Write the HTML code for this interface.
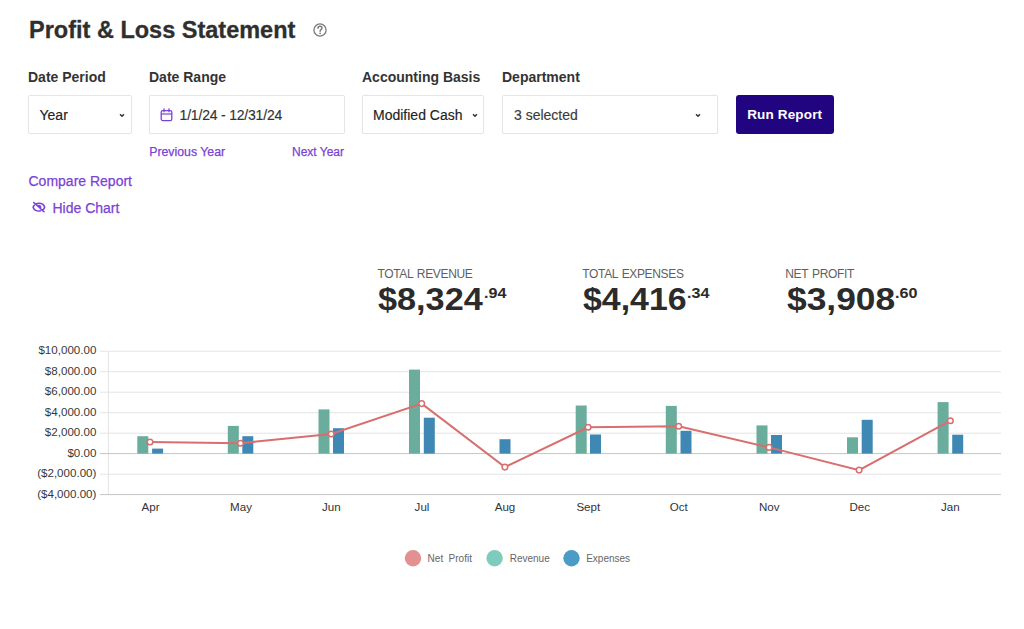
<!DOCTYPE html>
<html><head><meta charset="utf-8">
<style>
html,body{margin:0;padding:0;background:#fff;width:1024px;height:629px;overflow:hidden;position:relative;font-family:"Liberation Sans",sans-serif;}
.a{position:absolute;white-space:nowrap;line-height:1;}
.title{left:29px;top:18.7px;font-size:23.5px;font-weight:bold;color:#2f2f2f;-webkit-text-stroke:0.3px #2f2f2f;}
.lbl{top:69.6px;font-size:14px;font-weight:bold;color:#333;}
.box{position:absolute;top:95px;height:39px;box-sizing:border-box;border:1px solid #e6e6e6;border-radius:2px;background:#fff;box-shadow:0 0 1.5px rgba(0,0,0,0.06);}
.val{font-size:14px;color:#222;top:108px;-webkit-text-stroke:0.15px currentColor;}
.lnk{color:#7a43d6;-webkit-text-stroke:0.25px #7a43d6;}
.chev{position:absolute;top:112px;width:8px;height:6px;}
.kl{font-size:12px;color:#5f5f5f;top:267.6px;letter-spacing:-0.35px;word-spacing:1px;}
.kv{font-size:32px;font-weight:bold;color:#2b2b2b;top:283px;transform:scaleX(1.1);transform-origin:0 0;}
.ks{font-size:14px;font-weight:bold;color:#2b2b2b;top:286px;transform:scaleX(1.15);transform-origin:0 0;}
</style></head><body>
<div class="a title">Profit &amp; Loss Statement</div>
<svg class="a" style="left:313.2px;top:23.2px" width="14" height="14" viewBox="0 0 14 14">
  <circle cx="7" cy="7" r="6.1" fill="none" stroke="#7a7a7a" stroke-width="1.3"/>
  <path d="M5 5.2 Q5 3.2 7.1 3.2 Q9 3.2 9 5 Q9 6 7.9 6.6 Q7.1 7.1 7.1 8.2" fill="none" stroke="#7a7a7a" stroke-width="1.45" stroke-linecap="round"/>
  <circle cx="7.1" cy="10.3" r="0.85" fill="#7a7a7a"/>
</svg>

<div class="a lbl" style="left:28px">Date Period</div>
<div class="a lbl" style="left:149px">Date Range</div>
<div class="a lbl" style="left:362px">Accounting Basis</div>
<div class="a lbl" style="left:502px">Department</div>

<div class="box" style="left:28px;width:103.5px"></div>
<div class="a val" style="left:39.5px">Year</div>
<svg class="chev" style="left:118px;top:111.5px" viewBox="0 0 8 6"><path d="M2 2.2 L4 4.2 L6 2.2" fill="none" stroke="#333" stroke-width="1.5"/></svg>

<div class="box" style="left:149px;width:196px"></div>
<svg class="a" style="left:160px;top:108px" width="13" height="14" viewBox="0 0 13 14">
  <rect x="1.2" y="2.6" width="10.6" height="10" rx="1.6" fill="none" stroke="#7a43d6" stroke-width="1.3"/>
  <line x1="1.2" y1="6" x2="11.8" y2="6" stroke="#7a43d6" stroke-width="1.2"/>
  <line x1="4" y1="0.8" x2="4" y2="3.8" stroke="#7a43d6" stroke-width="1.3" stroke-linecap="round"/>
  <line x1="9" y1="0.8" x2="9" y2="3.8" stroke="#7a43d6" stroke-width="1.3" stroke-linecap="round"/>
</svg>
<div class="a val" style="left:179.6px;color:#333;letter-spacing:-0.2px">1/1/24 - 12/31/24</div>

<div class="box" style="left:362px;width:122px"></div>
<div class="a val" style="left:373px">Modified Cash</div>
<svg class="chev" style="left:470.5px;top:111.5px" viewBox="0 0 8 6"><path d="M2 2.2 L4 4.2 L6 2.2" fill="none" stroke="#333" stroke-width="1.5"/></svg>

<div class="box" style="left:502px;width:216px"></div>
<div class="a val" style="left:514px;color:#3a3a3a">3 selected</div>
<svg class="chev" style="left:693.5px;top:112px" viewBox="0 0 8 6"><path d="M2 2.2 L4 4.2 L6 2.2" fill="none" stroke="#333" stroke-width="1.5"/></svg>

<div class="a" style="left:736px;top:95px;width:97.5px;height:38.8px;background:#210480;border-radius:3px;"></div>
<div class="a" style="left:747.2px;top:107.9px;font-size:13.5px;font-weight:bold;color:#fff;letter-spacing:0.15px">Run Report</div>

<div class="a lnk" style="left:149.2px;top:146px;font-size:12.3px;">Previous Year</div>
<div class="a lnk" style="left:292px;top:146px;font-size:12px;">Next Year</div>

<div class="a lnk" style="left:28.5px;top:173.6px;font-size:14px;">Compare Report</div>
<svg class="a" style="left:32px;top:200.8px" width="13.8" height="12.4" viewBox="0 0 24 24" preserveAspectRatio="none">
  <path d="M3.98 8.223A10.477 10.477 0 001.934 12C3.226 16.338 7.244 19.5 12 19.5c.993 0 1.953-.138 2.863-.395M6.228 6.228A10.45 10.45 0 0112 4.5c4.756 0 8.773 3.162 10.065 7.498a10.523 10.523 0 01-4.293 5.774M6.228 6.228L3 3m3.228 3.228l3.65 3.65m7.894 7.894L21 21m-3.228-3.228l-3.65-3.65m0 0a3 3 0 10-4.243-4.243m4.242 4.242L9.88 9.88" fill="none" stroke="#7a43d6" stroke-width="2.8" stroke-linecap="round" stroke-linejoin="round"/>
</svg>
<div class="a lnk" style="left:52.5px;top:200.6px;font-size:14px;">Hide Chart</div>

<div class="a kl" style="left:377.5px">TOTAL REVENUE</div>
<div class="a kv" style="left:378px;transform:scaleX(1.07)">$8,324</div>
<div class="a ks" style="left:483.5px">.94</div>

<div class="a kl" style="left:582.3px">TOTAL EXPENSES</div>
<div class="a kv" style="left:583.3px;transform:scaleX(1.059)">$4,416</div>
<div class="a ks" style="left:686.5px">.34</div>

<div class="a kl" style="left:785.3px">NET PROFIT</div>
<div class="a kv" style="left:787px;transform:scaleX(1.105)">$3,908</div>
<div class="a ks" style="left:895px">.60</div>

<svg class="a" style="left:0;top:0" width="1024" height="629" viewBox="0 0 1024 629">
  <g stroke="#e4e4e4" stroke-width="1">
    <line x1="100" y1="351.2" x2="1001" y2="351.2"/>
    <line x1="100" y1="371.7" x2="1001" y2="371.7"/>
    <line x1="100" y1="392.2" x2="1001" y2="392.2"/>
    <line x1="100" y1="412.7" x2="1001" y2="412.7"/>
    <line x1="100" y1="433.2" x2="1001" y2="433.2"/>
    <line x1="100" y1="474.2" x2="1001" y2="474.2"/>
    <line x1="108.4" y1="351" x2="108.4" y2="494.5"/>
  </g>
  <line x1="100" y1="453.6" x2="1001" y2="453.6" stroke="#c4c4c4" stroke-width="1"/>
  <line x1="100" y1="494.6" x2="1001" y2="494.6" stroke="#c4c4c4" stroke-width="1"/>
  <g font-family="Liberation Sans" font-size="10" fill="#383838" text-anchor="end">
    <text transform="translate(96.4,354.2) scale(1.16,1)">$10,000.00</text>
    <text transform="translate(96.4,374.7) scale(1.16,1)">$8,000.00</text>
    <text transform="translate(96.4,395.2) scale(1.16,1)">$6,000.00</text>
    <text transform="translate(96.4,415.7) scale(1.16,1)">$4,000.00</text>
    <text transform="translate(96.4,436.2) scale(1.16,1)">$2,000.00</text>
    <text transform="translate(96.4,456.7) scale(1.16,1)">$0.00</text>
    <text transform="translate(96.4,477.2) scale(1.16,1)">($2,000.00)</text>
    <text transform="translate(96.4,497.7) scale(1.16,1)">($4,000.00)</text>
  </g>
  <g font-family="Liberation Sans" font-size="10" fill="#333" text-anchor="middle">
    <text transform="translate(150.6,511) scale(1.16,1)">Apr</text>
    <text transform="translate(241.0,511) scale(1.16,1)">May</text>
    <text transform="translate(331.3,511) scale(1.16,1)">Jun</text>
    <text transform="translate(422.0,511) scale(1.16,1)">Jul</text>
    <text transform="translate(505.0,511) scale(1.16,1)">Aug</text>
    <text transform="translate(588.3,511) scale(1.16,1)">Sept</text>
    <text transform="translate(678.8,511) scale(1.16,1)">Oct</text>
    <text transform="translate(769.3,511) scale(1.16,1)">Nov</text>
    <text transform="translate(859.8,511) scale(1.16,1)">Dec</text>
    <text transform="translate(950.3,511) scale(1.16,1)">Jan</text>
  </g>
  <g fill="#6aad9d">
    <rect x="137.3" y="436.2" width="11" height="17.4"/>
    <rect x="227.8" y="425.9" width="11" height="27.7"/>
    <rect x="318.5" y="409.4" width="11" height="44.2"/>
    <rect x="409" y="369.6" width="11" height="84"/>
    <rect x="575.7" y="405.5" width="11" height="48.1"/>
    <rect x="665.8" y="405.9" width="11" height="47.7"/>
    <rect x="756.5" y="425.4" width="11" height="28.2"/>
    <rect x="847" y="437.3" width="11" height="16.3"/>
    <rect x="937.6" y="402.1" width="11" height="51.5"/>
  </g>
  <g fill="#4088b4">
    <rect x="152.1" y="448.6" width="11" height="5"/>
    <rect x="242.3" y="436.2" width="11" height="17.4"/>
    <rect x="333" y="428.2" width="11" height="25.4"/>
    <rect x="423.8" y="417.7" width="11" height="35.9"/>
    <rect x="499.5" y="439.2" width="11" height="14.4"/>
    <rect x="590" y="434.5" width="11" height="19.1"/>
    <rect x="680.5" y="430.8" width="11" height="22.8"/>
    <rect x="771" y="435" width="11" height="18.6"/>
    <rect x="861.7" y="419.8" width="11" height="33.8"/>
    <rect x="952.2" y="434.7" width="11" height="18.9"/>
  </g>
  <polyline points="150,442 240.5,443.2 331.2,434 421.7,403.6 504.9,467.1 588.1,427.3 678.7,426.3 769.1,447.4 859.1,470.1 950.4,420.7" fill="none" stroke="#d86e6e" stroke-width="2"/>
  <g fill="#fff" stroke="#d86e6e" stroke-width="1.5">
    <circle cx="150" cy="442" r="2.8"/>
    <circle cx="240.5" cy="443.2" r="2.8"/>
    <circle cx="331.2" cy="434" r="2.8"/>
    <circle cx="421.7" cy="403.6" r="2.8"/>
    <circle cx="504.9" cy="467.1" r="2.8"/>
    <circle cx="588.1" cy="427.3" r="2.8"/>
    <circle cx="678.7" cy="426.3" r="2.8"/>
    <circle cx="769.1" cy="447.4" r="2.8"/>
    <circle cx="859.1" cy="470.1" r="2.8"/>
    <circle cx="950.4" cy="420.7" r="2.8"/>
  </g>
  <circle cx="413" cy="558.3" r="8.2" fill="#e39090"/>
  <circle cx="494.6" cy="558.3" r="8.2" fill="#7fcbbd"/>
  <circle cx="571.5" cy="558.3" r="8.2" fill="#4a9cc6"/>
  <g font-family="Liberation Sans" font-size="10" fill="#666">
    <text x="427.6" y="562">Net</text><text x="448.6" y="562">Profit</text>
    <text x="509.7" y="562">Revenue</text>
    <text x="586.2" y="562">Expenses</text>
  </g>
</svg>
</body></html>
